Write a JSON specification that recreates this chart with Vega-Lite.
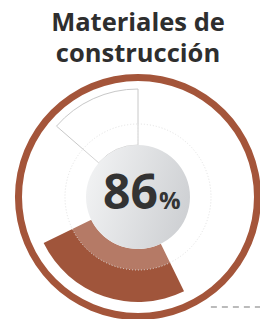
{
  "$schema": "https://vega.github.io/schema/vega-lite/v6.json",
  "autosize": "none",
  "width": 276,
  "height": 244,
  "padding": {"top": 75, "left": 0, "right": 0, "bottom": 0},
  "background": "white",
  "config": {"view": {"stroke": null}},
  "title": {
    "text": ["Materiales de", "construcción"],
    "font": "Open Sans",
    "fontSize": 25.5,
    "fontWeight": "bold",
    "color": "#2e2e2e",
    "lineHeight": 31,
    "anchor": "middle",
    "offset": 7
  },
  "data": {
    "values": [
      {"part": "anillo", "start": 0, "end": 360},
      {"part": "sector", "start": 154, "end": 244},
      {"part": "contorno", "start": 311, "end": 360},
      {"part": "velo", "start": 0, "end": 360},
      {"part": "centro", "start": 0, "end": 360},
      {"part": "valor", "start": 0, "end": 360, "num": "86", "pct": "%"},
      {"part": "guion", "x": 76.4, "x2": 100, "y": 4.9}
    ]
  },
  "layer": [
    {
      "transform": [{"filter": "datum.part === 'anillo'"}],
      "mark": {"type": "arc", "innerRadius": 116, "outerRadius": 123, "color": "#A4553A"},
      "encoding": {
        "theta": {"field": "start", "type": "quantitative", "stack": null, "scale": {"domain": [0, 360], "range": [0, 6.283185307]}},
        "theta2": {"field": "end"}
      }
    },
    {
      "transform": [{"filter": "datum.part === 'sector'"}],
      "mark": {"type": "arc", "innerRadius": 52, "outerRadius": 105, "color": "#A0553B"},
      "encoding": {
        "theta": {"field": "start", "type": "quantitative", "stack": null},
        "theta2": {"field": "end"}
      }
    },
    {
      "transform": [{"filter": "datum.part === 'contorno'"}],
      "mark": {"type": "arc", "innerRadius": 52, "outerRadius": 108, "fill": "#ffffff", "stroke": "#c8c8c8", "strokeWidth": 1},
      "encoding": {
        "theta": {"field": "start", "type": "quantitative", "stack": null},
        "theta2": {"field": "end"}
      }
    },
    {
      "transform": [{"filter": "datum.part === 'velo'"}],
      "mark": {"type": "arc", "innerRadius": 0, "outerRadius": 73, "fill": "#ffffff", "fillOpacity": 0.22, "stroke": "#e2e2e2", "strokeWidth": 1, "strokeDash": [1, 2]},
      "encoding": {
        "theta": {"field": "start", "type": "quantitative", "stack": null},
        "theta2": {"field": "end"}
      }
    },
    {
      "transform": [{"filter": "datum.part === 'centro'"}],
      "mark": {
        "type": "arc", "innerRadius": 0, "outerRadius": 52,
        "fill": {"gradient": "linear", "x1": 0, "y1": 0.2, "x2": 1, "y2": 0.5, "stops": [{"offset": 0, "color": "#f2f3f4"}, {"offset": 1, "color": "#cfd1d4"}]}
      },
      "encoding": {
        "theta": {"field": "start", "type": "quantitative", "stack": null},
        "theta2": {"field": "end"}
      }
    },
    {
      "transform": [{"filter": "datum.part === 'valor'"}],
      "mark": {"type": "text", "font": "Open Sans", "fontWeight": "bold", "fontSize": 48, "color": "#333333", "align": "right", "baseline": "alphabetic", "dx": 20, "dy": 12},
      "encoding": {"text": {"field": "num", "type": "nominal"}}
    },
    {
      "transform": [{"filter": "datum.part === 'valor'"}],
      "mark": {"type": "text", "font": "Open Sans", "fontWeight": "bold", "fontSize": 24, "color": "#333333", "align": "left", "baseline": "alphabetic", "dx": 21, "dy": 12},
      "encoding": {"text": {"field": "pct", "type": "nominal"}}
    },
    {
      "transform": [{"filter": "datum.part === 'guion'"}],
      "mark": {"type": "rule", "color": "#bbbbbb", "strokeWidth": 2, "strokeDash": [6, 5]},
      "encoding": {
        "x": {"field": "x", "type": "quantitative", "scale": {"domain": [0, 100]}, "axis": null},
        "x2": {"field": "x2"},
        "y": {"field": "y", "type": "quantitative", "scale": {"domain": [0, 100]}, "axis": null}
      }
    }
  ]
}
